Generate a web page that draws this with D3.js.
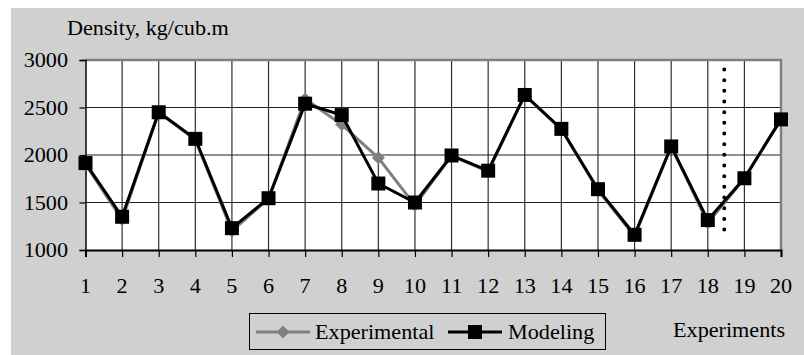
<!DOCTYPE html>
<html><head><meta charset="utf-8">
<script src="https://cdn.jsdelivr.net/npm/d3@7"></script>
<style>html,body{margin:0;padding:0;background:#fff;}svg{display:block;}</style>
</head><body>
<svg id="chart" width="804" height="355"></svg>
<script>
const categories = [1,2,3,4,5,6,7,8,9,10,11,12,13,14,15,16,17,18,19,20];
const experimental = [1900,1320,2450,2160,1200,1540,2590,2320,1970,1470,1990,1825,2630,2270,1630,1145,2090,1285,1755,2380];
const modeling = [1915,1350,2450,2170,1230,1545,2540,2420,1700,1500,1995,1835,2632,2275,1640,1160,2090,1315,1755,2375];
const yTicks = [1000,1500,2000,2500,3000];
const dividerAt = [18.45];
const dividerRange = [1200, 2900];
const seriesNames = ["Experimental","Modeling"];
const yTitle = "Density, kg/cub.m";
const xTitle = "Experiments";

const svg = d3.select("#chart");
const FONT = "'Liberation Serif','Times New Roman',serif";
const SX = 1.11;
const L = 85.5, R = 781, T = 60, B = 250;

svg.append("rect").attr("x",11).attr("y",8).attr("width",804-11).attr("height",355-8).attr("fill","#d0d0d0");

const x = d3.scaleLinear().domain([categories[0], categories[categories.length-1]]).range([L,R]);
const y = d3.scaleLinear().domain([yTicks[0], yTicks[yTicks.length-1]]).range([B,T]);

function label(txt, px, py, anchor, size){
  svg.append("g").attr("transform",`translate(${px},${py}) scale(${SX},1)`)
    .append("text").attr("text-anchor",anchor||"start")
    .attr("font-family",FONT).attr("font-size",size||20).attr("fill","#000").text(txt);
}

// plot area
svg.append("rect").attr("x",L).attr("y",T).attr("width",R-L).attr("height",B-T).attr("fill","#fff");

// gridlines
svg.append("g").selectAll("line").data(categories.slice(1,-1)).join("line")
  .attr("x1",d=>x(d)).attr("x2",d=>x(d)).attr("y1",T).attr("y2",B)
  .attr("stroke","#303030").attr("stroke-width",1.2);
svg.append("g").selectAll("line").data(yTicks.slice(1,-1)).join("line")
  .attr("x1",L).attr("x2",R).attr("y1",d=>y(d)).attr("y2",d=>y(d))
  .attr("stroke","#202020").attr("stroke-width",1.2);

// border
svg.append("line").attr("x1",L).attr("x2",R+1).attr("y1",T).attr("y2",T).attr("stroke","#808080").attr("stroke-width",2.5);
svg.append("line").attr("x1",R).attr("x2",R).attr("y1",T).attr("y2",B).attr("stroke","#808080").attr("stroke-width",2.5);

// axes
const yAxis = d3.axisLeft(y).tickValues(yTicks).tickSize(6).tickFormat("");
const gy = svg.append("g").attr("transform",`translate(${L},0)`).call(yAxis);
gy.select(".domain").attr("stroke","#000").attr("stroke-width",1.5);
gy.selectAll(".tick line").attr("stroke","#000").attr("stroke-width",1.2);
const xAxis = d3.axisBottom(x).tickValues(categories).tickSize(7).tickFormat("");
const gx = svg.append("g").attr("transform",`translate(0,${B})`).call(xAxis);
gx.select(".domain").attr("stroke","#000").attr("stroke-width",2);
gx.selectAll(".tick line").attr("stroke","#000").attr("stroke-width",1.2);

yTicks.forEach(v=>label(String(v), 68, y(v)+7, "end"));
categories.forEach(c=>label(String(c), x(c), 293, "middle"));
label(yTitle, 67, 35, "start");
label(xTitle, 673, 337, "start");

// divider
svg.append("line").attr("x1",x(dividerAt[0])).attr("x2",x(dividerAt[0]))
  .attr("y1",y(dividerRange[1])).attr("y2",y(dividerRange[0])+0.1)
  .attr("stroke","#000").attr("stroke-width",4).attr("stroke-linecap","round")
  .attr("stroke-dasharray","0 10.67");

const line = d3.line().x((d,i)=>x(categories[i])).y(d=>y(d));
svg.append("path").datum(experimental).attr("d",line).attr("fill","none").attr("stroke","#808080").attr("stroke-width",3);
const diamond = d3.symbol().type(d3.symbolSquare).size(85);
svg.append("g").selectAll("path").data(experimental).join("path")
  .attr("d",diamond).attr("transform",(d,i)=>`translate(${x(categories[i])},${y(d)}) rotate(45)`).attr("fill","#808080");

svg.append("path").datum(modeling).attr("d",line).attr("fill","none").attr("stroke","#000").attr("stroke-width",3);
const square = d3.symbol().type(d3.symbolSquare).size(196);
svg.append("g").selectAll("path").data(modeling).join("path")
  .attr("d",square).attr("transform",(d,i)=>`translate(${x(categories[i])},${y(d)})`).attr("fill","#000");

// legend
svg.append("rect").attr("x",249.5).attr("y",313.5).attr("width",356).attr("height",36).attr("fill","none").attr("stroke","#000").attr("stroke-width",1);
svg.append("line").attr("x1",256).attr("x2",310).attr("y1",332).attr("y2",332).attr("stroke","#808080").attr("stroke-width",3);
svg.append("path").attr("d",diamond).attr("transform","translate(283,332) rotate(45)").attr("fill","#808080");
label(seriesNames[0], 315, 339, "start");
svg.append("line").attr("x1",448).attr("x2",502).attr("y1",332).attr("y2",332).attr("stroke","#000").attr("stroke-width",3);
svg.append("path").attr("d",square).attr("transform","translate(475,332)").attr("fill","#000");
label(seriesNames[1], 508, 339, "start");
</script>
</body></html>
